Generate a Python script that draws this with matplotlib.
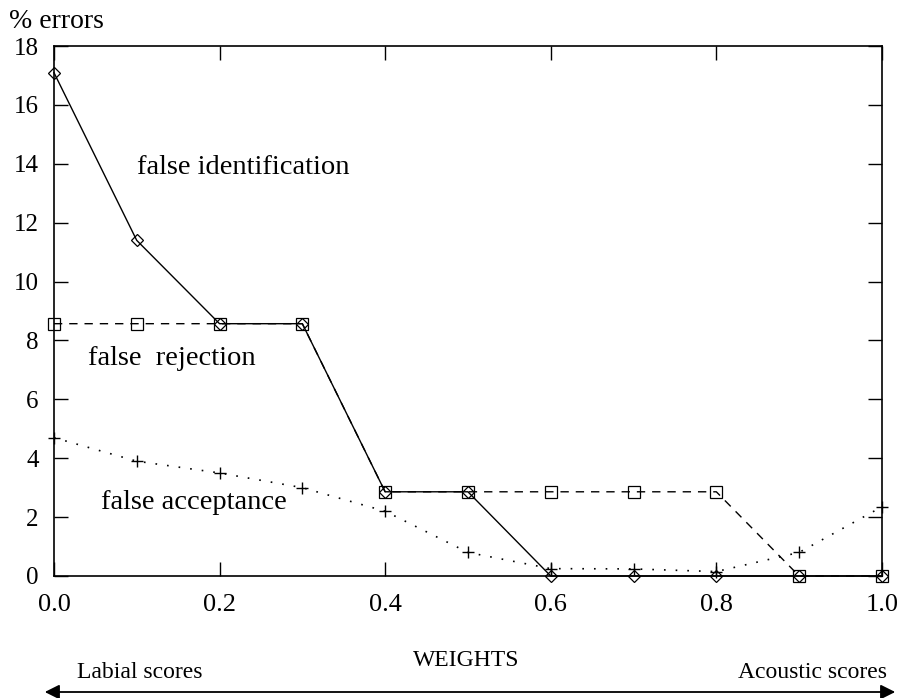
import matplotlib
matplotlib.use("Agg")
import matplotlib.pyplot as plt

plt.rcParams['font.family'] = ['Liberation Serif', 'DejaVu Serif']

weights = [0.0, 0.1, 0.2, 0.3, 0.4, 0.5, 0.6, 0.7, 0.8, 0.9, 1.0]
false_identification = [17.1, 11.4, 8.57, 8.57, 2.86, 2.86, 0.0, 0.0, 0.0, 0.0, 0.0]
false_rejection = [8.57, 8.57, 8.57, 8.57, 2.86, 2.86, 2.86, 2.86, 2.86, 0.0, 0.0]
false_acceptance = [4.7, 3.9, 3.5, 3.0, 2.2, 0.8, 0.25, 0.24, 0.15, 0.8, 2.35]
xticks = [0.0, 0.2, 0.4, 0.6, 0.8, 1.0]
xticklabels = ["0.0", "0.2", "0.4", "0.6", "0.8", "1.0"]
yticks = [0, 2, 4, 6, 8, 10, 12, 14, 16, 18]

fig = plt.figure(figsize=(8.99, 6.98), dpi=100)
ax = fig.add_axes([0.060, 0.1748, 0.921, 0.7592])

ax.plot(weights, false_identification, color='black', linestyle='-', linewidth=1.0,
        marker='D', markersize=6, markerfacecolor='none', markeredgecolor='black',
        markeredgewidth=0.9, clip_on=False, zorder=3)
ax.plot(weights, false_rejection, color='black', linestyle=(0, (6, 5)), linewidth=1.0,
        marker='s', markersize=8, markerfacecolor='none', markeredgecolor='black',
        markeredgewidth=0.9, clip_on=False, zorder=2)
ax.plot(weights, false_acceptance, color='black', linestyle=(0, (1, 6)), linewidth=1.2,
        marker='+', markersize=8, markeredgewidth=1.0, clip_on=False, zorder=2)

ax.set_xlim(0, 1)
ax.set_ylim(0, 18)
ax.set_xticks(xticks)
ax.set_xticklabels(xticklabels)
ax.set_yticks(yticks)
ax.tick_params(direction='in', length=10, width=1, top=True, right=True)
ax.tick_params(axis='x', pad=13, labelsize=19)
ax.tick_params(axis='y', pad=11, labelsize=18)
for s in ax.spines.values():
    s.set_linewidth(1.2)

ax.text(0.1, 13.86, "false identification", fontsize=20.5, va='center', ha='left')
ax.text(0.041, 7.4, "false  rejection", fontsize=20.5, va='center', ha='left')
ax.text(0.057, 2.5, "false acceptance", fontsize=20.5, va='center', ha='left')

fig.text(9/899, 1 - 21/698, "% errors", fontsize=20, ha='left', va='center')
fig.text(466/899, 1 - 661/698, "WEIGHTS", fontsize=17, ha='center', va='center')
fig.text(77/899, 1 - 673/698, "Labial scores", fontsize=17, ha='left', va='center')
fig.text(887/899, 1 - 673/698, "Acoustic scores", fontsize=17, ha='right', va='center')
fig.add_artist(matplotlib.patches.FancyArrowPatch(
    (42/899, 1 - 692/698), (898/899, 1 - 692/698), transform=fig.transFigure,
    arrowstyle='<|-|>', mutation_scale=22, color='black', linewidth=1.3))

fig.savefig("out.png", dpi=100)
